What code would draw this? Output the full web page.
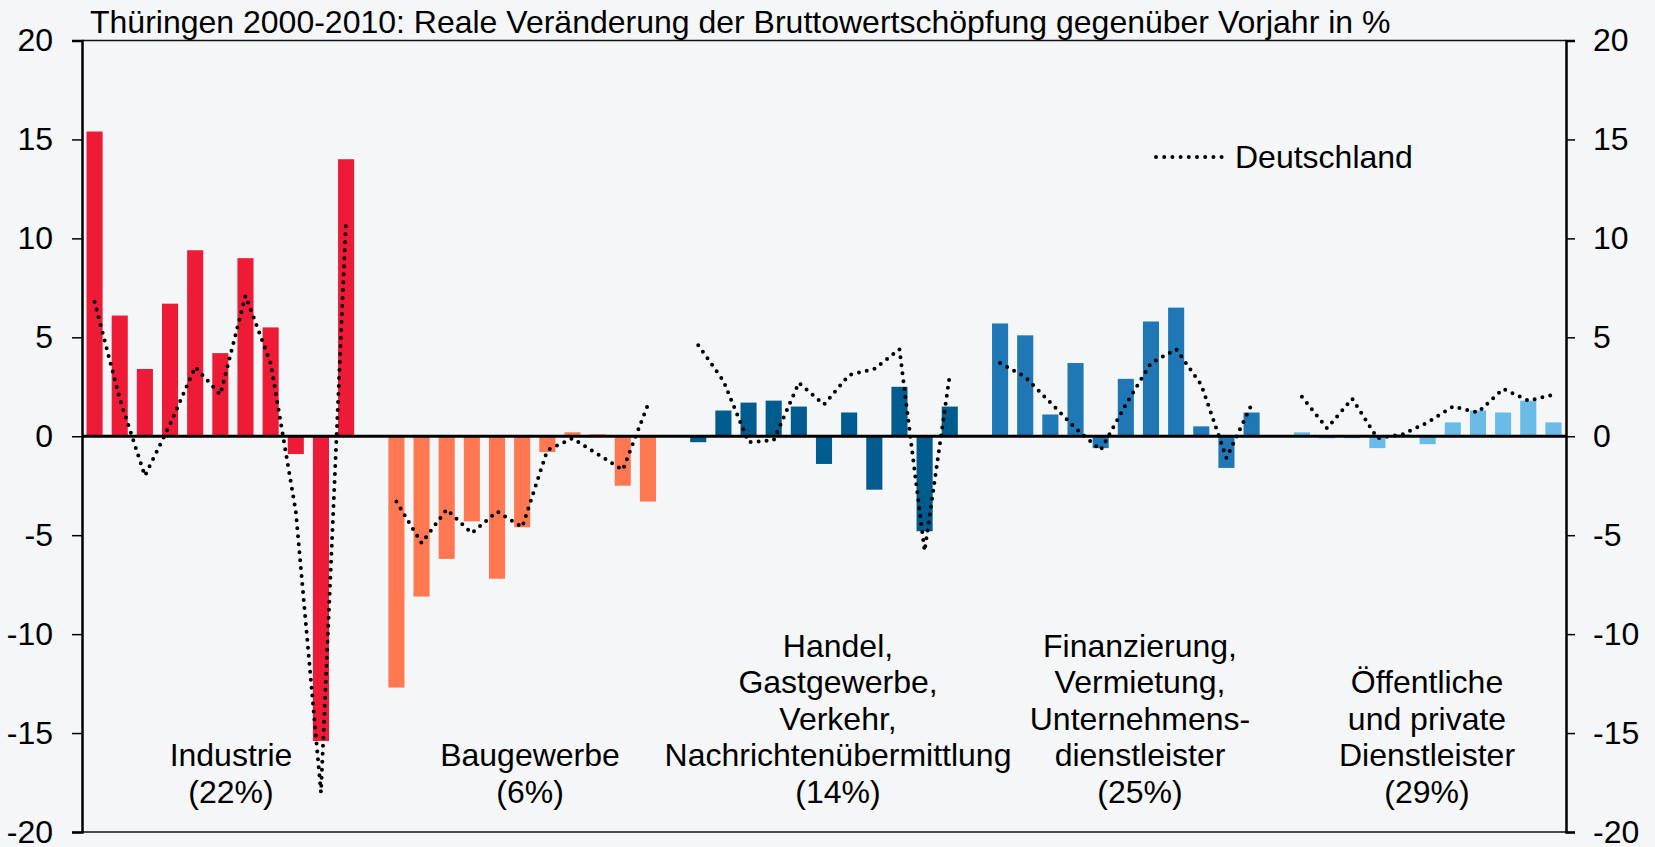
<!DOCTYPE html>
<html>
<head>
<meta charset="utf-8">
<script src="https://cdn.jsdelivr.net/npm/d3@7"></script>
<style>
  body { margin: 0; background: #f4f6f8; }
  svg { display: block; font-family: 'Liberation Sans', Arial, sans-serif; }
</style>
</head>
<body>
<div id="chart-1"></div>
<script>
// Thüringen 2000-2010, real change of gross value added vs. previous year (%)
let years = [2000, 2001, 2002, 2003, 2004, 2005, 2006, 2007, 2008, 2009, 2010]

let industrie = [15.4, 6.1, 3.4, 6.7, 9.4, 4.2, 9.0, 5.5, -0.9, -15.4, 14.0]
let baugewerbe = [-12.7, -8.1, -6.2, -4.3, -7.2, -4.6, -0.8, 0.2, 0.1, -2.5, -3.3]
let handel = [-0.3, 1.3, 1.7, 1.8, 1.5, -1.4, 1.2, -2.7, 2.5, -4.8, 1.5]
let finanz = [5.7, 5.1, 1.1, 3.7, -0.6, 2.9, 5.8, 6.5, 0.5, -1.6, 1.2]
let dienstleister = [0.2, -0.1, -0.1, -0.6, 0.1, -0.4, 0.7, 1.3, 1.2, 1.8, 0.7]

// Deutschland (dotted line)
let deIndustrie = [6.8, 1.9, -2.0, 0.6, 3.5, 2.1, 7.1, 3.7, -3.8, -18.0, 11.0]
let deBaugewerbe = [-3.3, -5.4, -3.7, -4.9, -3.8, -4.6, -0.7, -0.1, -0.9, -1.7, 1.6]
let deHandel = [4.6, 2.8, -0.3, -0.2, 2.7, 1.6, 3.1, 3.4, 4.4, -5.8, 3.1]
let deFinanz = [3.7, 3.0, 1.7, 0.4, -0.7, 1.6, 3.7, 4.4, 2.6, -1.1, 1.6]
let deDienstleister = [2.0, 0.4, 1.9, -0.1, 0.1, 0.7, 1.5, 1.2, 2.4, 1.8, 2.1]

let groupLabels = [
  ['Industrie', '(22%)'],
  ['Baugewerbe', '(6%)'],
  ['Handel,', 'Gastgewerbe,', 'Verkehr,', 'Nachrichtenübermittlung', '(14%)'],
  ['Finanzierung,', 'Vermietung,', 'Unternehmens-', 'dienstleister', '(25%)'],
  ['Öffentliche', 'und private', 'Dienstleister', '(29%)']
]
let groupColors = ['#ee1b36', '#ff7852', '#005b8e', '#1f78b5', '#6bbbe9']
let yTicks = [-20, -15, -10, -5, 0, 5, 10, 15, 20]

let groups = [
  [industrie, deIndustrie],
  [baugewerbe, deBaugewerbe],
  [handel, deHandel],
  [finanz, deFinanz],
  [dienstleister, deDienstleister]
].map((g, i) => ({
  values: g[0],
  de: g[1],
  color: groupColors[i],
  label: groupLabels[i]
}))

let margin = { top: 40.5, left: 82, right: 89, bottom: 15 }
let width = 1655 - margin.left - margin.right
let height = 847 - margin.top - margin.bottom

let svg = d3
  .select('#chart-1')
  .append('svg')
  .attr('width', width + margin.left + margin.right)
  .attr('height', height + margin.top + margin.bottom)

let chart = svg
  .append('g')
  .attr('transform', 'translate(' + margin.left + ',' + margin.top + ')')

// 11 years per group, one empty slot between groups
let slotsPerGroup = years.length + 1
let nSlots = groups.length * slotsPerGroup - 1

let xPositionScale = d3
  .scaleBand()
  .domain(d3.range(nSlots))
  .range([0, width])
  .paddingInner(0.36)
  .paddingOuter(0.18)

let yPositionScale = d3
  .scaleLinear()
  .domain([-20, 20])
  .range([height, 0])

let slot = (g, j) => g * slotsPerGroup + j
let xCenter = (g, j) => xPositionScale(slot(g, j)) + xPositionScale.bandwidth() / 2

// frame top / bottom
chart
  .selectAll('.frame')
  .data([0, height])
  .enter()
  .append('line')
  .attr('x1', 0)
  .attr('x2', width)
  .attr('y1', d => d)
  .attr('y2', d => d)
  .attr('stroke', '#111')
  .attr('stroke-width', 1.5)

// bars
groups.forEach((g, gi) => {
  chart
    .append('g')
    .selectAll('rect')
    .data(g.values)
    .enter()
    .append('rect')
    .attr('x', (d, j) => xPositionScale(slot(gi, j)))
    .attr('width', xPositionScale.bandwidth())
    .attr('y', d => yPositionScale(Math.max(0, d)))
    .attr('height', d => Math.abs(yPositionScale(d) - yPositionScale(0)))
    .attr('fill', g.color)
})

// zero line
chart
  .append('line')
  .attr('x1', 0)
  .attr('x2', width)
  .attr('y1', yPositionScale(0))
  .attr('y2', yPositionScale(0))
  .attr('stroke', '#000')
  .attr('stroke-width', 3)

// Deutschland lines, one per group
groups.forEach((g, gi) => {
  let line = d3
    .line()
    .x((d, j) => xCenter(gi, j))
    .y(d => yPositionScale(d))

  chart
    .append('path')
    .datum(g.de)
    .attr('d', line)
    .attr('fill', 'none')
    .attr('stroke', '#000')
    .attr('stroke-width', 4)
    .attr('stroke-linecap', 'round')
    .attr('stroke-dasharray', '0 8')
})

// axes (plain hyphen for negatives, like the original)
let yAxisLeft = d3
  .axisLeft(yPositionScale)
  .tickValues(yTicks)
  .tickFormat(d => String(d))
  .tickSize(10)
  .tickPadding(19)
let yAxisRight = d3
  .axisRight(yPositionScale)
  .tickValues(yTicks)
  .tickFormat(d => String(d))
  .tickSize(9)
  .tickPadding(18)

chart.append('g').attr('class', 'axis').call(yAxisLeft)
chart
  .append('g')
  .attr('class', 'axis')
  .attr('transform', 'translate(' + width + ',0)')
  .call(yAxisRight)

chart.selectAll('.axis .domain').attr('stroke', '#000').attr('stroke-width', 2.5)
chart.selectAll('.axis .tick line').attr('stroke', '#000').attr('stroke-width', 1.5)
chart
  .selectAll('.axis text')
  .attr('font-size', 32)
  .attr('font-family', "'Liberation Sans', Arial, sans-serif")
  .attr('fill', '#000')

// group labels, bottom aligned
let labelCenters = [231, 530, 838, 1140, 1427]
let lineHeight = 36.6
let lastBaseline = 803

groups.forEach((g, gi) => {
  let n = g.label.length
  svg
    .append('text')
    .attr('text-anchor', 'middle')
    .attr('font-size', 32)
    .attr('fill', '#000')
    .selectAll('tspan')
    .data(g.label)
    .enter()
    .append('tspan')
    .attr('x', labelCenters[gi])
    .attr('y', (d, i) => lastBaseline - (n - 1 - i) * lineHeight)
    .text(d => d)
})

// title
svg
  .append('text')
  .attr('x', 90)
  .attr('y', 33)
  .attr('font-size', 32)
  .attr('fill', '#000')
  .text('Thüringen 2000-2010: Reale Veränderung der Bruttowertschöpfung gegenüber Vorjahr in %')

// legend
svg
  .append('line')
  .attr('x1', 1156)
  .attr('x2', 1222)
  .attr('y1', 157)
  .attr('y2', 157)
  .attr('stroke', '#000')
  .attr('stroke-width', 4)
  .attr('stroke-linecap', 'round')
  .attr('stroke-dasharray', '0 8.2')

svg
  .append('text')
  .attr('x', 1235)
  .attr('y', 168)
  .attr('font-size', 32)
  .attr('fill', '#000')
  .text('Deutschland')
</script>
</body>
</html>
